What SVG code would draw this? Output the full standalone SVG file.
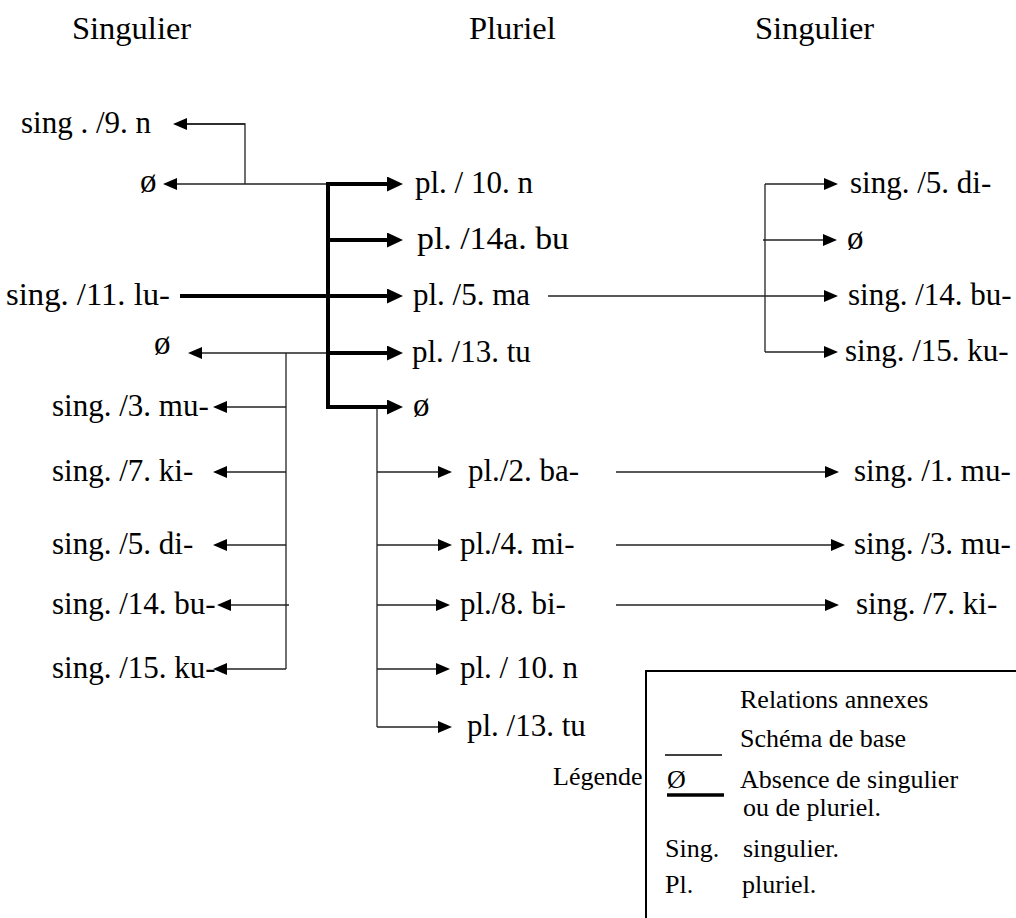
<svg xmlns="http://www.w3.org/2000/svg" width="1016" height="918" viewBox="0 0 1016 918">
<style>
.t{font-family:"Liberation Serif","Times New Roman",serif;font-size:31px;fill:#000}
.h{font-family:"Liberation Serif","Times New Roman",serif;font-size:32.5px;fill:#000}
.s{font-family:"Liberation Serif","Times New Roman",serif;font-size:26px;fill:#000}
.o{font-family:"Liberation Serif","Times New Roman",serif;font-size:33px;fill:#000}
.thin{stroke:#222;stroke-width:1.3;fill:none}
.thick{stroke:#000;stroke-width:4;fill:none}
.ta{marker-end:url(#ah)}
.tk{marker-end:url(#ahk)}
</style>
<defs>
<marker id="ah" markerUnits="userSpaceOnUse" markerWidth="14" markerHeight="12" refX="0" refY="6" orient="auto" viewBox="0 0 14 12"><path d="M0,0 L14,6 L0,12 z" fill="#000"/></marker>
<marker id="ahk" markerUnits="userSpaceOnUse" markerWidth="16" markerHeight="15" refX="0" refY="7.5" orient="auto" viewBox="0 0 16 15"><path d="M0,0 L16,7.5 L0,15 z" fill="#000"/></marker>
</defs>
<g id="headers">
<text class="h" x="72" y="39">Singulier</text>
<text class="h" x="469" y="39">Pluriel</text>
<text class="h" x="755" y="39">Singulier</text>
</g>
<g id="connectors">
<path class="thin" d="M245,184 V124 H187"/>
<path class="thin ta" d="M245,124 H187"/>
<path class="thin ta" d="M328,184 H177"/>
<path class="thin ta" d="M328,353 H202"/>
<path class="thin" d="M286,353 V669"/>
<path class="thin ta" d="M286,407 H227"/>
<path class="thin ta" d="M286,472 H227"/>
<path class="thin ta" d="M286,545 H227"/>
<path class="thin ta" d="M289,605 H231"/>
<path class="thin ta" d="M286,669 H227"/>
<path class="thin" d="M377,407 V727"/>
<path class="thin ta" d="M377,472 H438"/>
<path class="thin ta" d="M377,545 H438"/>
<path class="thin ta" d="M377,605 H436"/>
<path class="thin ta" d="M377,669 H436"/>
<path class="thin ta" d="M377,727 H438"/>
<path class="thin ta" d="M616,472 H825"/>
<path class="thin ta" d="M616,545 H831"/>
<path class="thin ta" d="M616,605 H825"/>
<path class="thin ta" d="M548,296 H824"/>
<path class="thin" d="M765,184 V352"/>
<path class="thin ta" d="M765,184 H824"/>
<path class="thin ta" d="M763,240 H823"/>
<path class="thin ta" d="M765,352 H824"/>
<path class="thick tk" d="M328,184 H387"/>
<path class="thick tk" d="M328,240 H387"/>
<path class="thick tk" d="M180,296 H387"/>
<path class="thick tk" d="M328,353 H387"/>
<path class="thick tk" d="M328,182 V407 H387"/>
</g>
<g id="left">
<g id="n-sing9"><text class="t" x="21" y="133">sing . /9. n</text></g>
<g id="n-zero-l1"><text class="o" x="140" y="192">ø</text></g>
<g id="n-sing11"><text class="t" x="6" y="305" textLength="164" lengthAdjust="spacingAndGlyphs">sing. /11. lu-</text></g>
<g id="n-zero-l2"><text class="o" x="154" y="354">ø</text></g>
<g id="n-sing3l"><text class="t" x="52" y="416">sing. /3. mu-</text></g>
<g id="n-sing7l"><text class="t" x="52" y="481">sing. /7. ki-</text></g>
<g id="n-sing5l"><text class="t" x="52" y="554">sing. /5. di-</text></g>
<g id="n-sing14l"><text class="t" x="52" y="614">sing. /14. bu-</text></g>
<g id="n-sing15l"><text class="t" x="52" y="678">sing. /15. ku-</text></g>
</g>
<g id="center">
<g id="n-pl10a"><text class="t" x="415" y="193">pl. / 10. n</text></g>
<g id="n-pl14a"><text class="t" x="417" y="249" textLength="152" lengthAdjust="spacingAndGlyphs">pl. /14a. bu</text></g>
<g id="n-pl5"><text class="t" x="413" y="305">pl. /5. ma</text></g>
<g id="n-pl13a"><text class="t" x="412" y="362">pl. /13. tu</text></g>
<g id="n-zero-c"><text class="o" x="413" y="416">ø</text></g>
<g id="n-pl2"><text class="t" x="468" y="481">pl./2. ba-</text></g>
<g id="n-pl4"><text class="t" x="460" y="554">pl./4. mi-</text></g>
<g id="n-pl8"><text class="t" x="460" y="614">pl./8. bi-</text></g>
<g id="n-pl10b"><text class="t" x="460" y="678">pl. / 10. n</text></g>
<g id="n-pl13b"><text class="t" x="467" y="736">pl. /13. tu</text></g>
</g>
<g id="right">
<g id="n-sing5r"><text class="t" x="850" y="193">sing. /5. di-</text></g>
<g id="n-zero-r"><text class="o" x="847" y="249">ø</text></g>
<g id="n-sing14r"><text class="t" x="848" y="305">sing. /14. bu-</text></g>
<g id="n-sing15r"><text class="t" x="845" y="361">sing. /15. ku-</text></g>
<g id="n-sing1r"><text class="t" x="854" y="481">sing. /1. mu-</text></g>
<g id="n-sing3r"><text class="t" x="854" y="554">sing. /3. mu-</text></g>
<g id="n-sing7r"><text class="t" x="856" y="614">sing. /7. ki-</text></g>
</g>
<g id="legend">
<text class="s" x="553" y="785">Légende</text>
<rect x="646" y="671" width="400" height="300" fill="none" stroke="#000" stroke-width="2"/>
<text class="s" x="740" y="708">Relations annexes</text>
<text class="s" x="740" y="747">Schéma de base</text>
<line x1="665" y1="755" x2="722" y2="755" stroke="#000" stroke-width="1.3"/>
<text class="s" x="667" y="788">Ø</text>
<line x1="667" y1="795" x2="724" y2="795" stroke="#000" stroke-width="3.5"/>
<text class="s" x="740" y="788">Absence de singulier</text>
<text class="s" x="743" y="816">ou de pluriel.</text>
<text class="s" x="665" y="857">Sing.</text>
<text class="s" x="743" y="857">singulier.</text>
<text class="s" x="665" y="893">Pl.</text>
<text class="s" x="742" y="893">pluriel.</text>
</g>
</svg>
